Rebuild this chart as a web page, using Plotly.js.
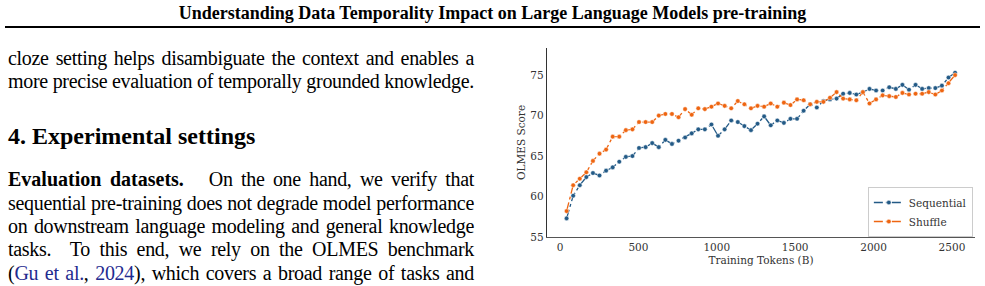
<!DOCTYPE html>
<html>
<head>
<meta charset="utf-8">
<script src="https://cdn.plot.ly/plotly-3.0.1.min.js"></script>
<style>
  html, body { margin: 0; padding: 0; background: #fff; }
  body { width: 985px; height: 286px; position: relative; overflow: hidden; font-family: "Liberation Serif", "Times New Roman", serif; color: #000; }
  .ln { position: absolute; left: 8px; width: 466px; font-size: 20px; line-height: 20px; letter-spacing: -0.3px; white-space: nowrap; text-align: justify; text-align-last: justify; }
  .ln b { letter-spacing: 0; }
  .hdr { position: absolute; left: 0; width: 985px; top: 3.9px; text-align: center; font-weight: bold; font-size: 18px; line-height: 18px; }
  .rule { position: absolute; left: 5px; width: 975px; top: 26px; height: 2.4px; background: #000; }
  .h2 { position: absolute; left: 8px; top: 123.9px; font-weight: bold; font-size: 24px; line-height: 24px; white-space: nowrap; }
  .cite { color: #1f2b8f; }
  #chart { position: absolute; left: 490px; top: 35px; width: 495px; height: 251px; }
</style>
</head>
<body>
<div class="hdr">Understanding Data Temporality Impact on Large Language Models pre-training</div>
<div class="rule"></div>
<div class="ln" style="top:47.5px">cloze setting helps disambiguate the context and enables a</div>
<div class="ln" style="top:70.9px">more precise evaluation of temporally grounded knowledge.</div>
<div class="h2">4. Experimental settings</div>
<div class="ln" style="top:169.3px"><b>Evaluation datasets.</b>&nbsp;&nbsp; On the one hand, we verify that</div>
<div class="ln" style="top:192.6px">sequential pre-training does not degrade model performance</div>
<div class="ln" style="top:215.9px">on downstream language modeling and general knowledge</div>
<div class="ln" style="top:239.2px">tasks.&nbsp; To this end, we rely on the OLMES benchmark</div>
<div class="ln" style="top:262.5px">(<span class="cite">Gu et al.</span>, <span class="cite">2024</span>), which covers a broad range of tasks and</div>
<div id="chart"></div>
<script>
// Training tokens (billions) at each evaluated checkpoint
const tokens = [42, 84, 126, 168, 210, 252, 294, 336, 378, 420,
  462, 504, 546, 588, 630, 672, 714, 756, 798, 840,
  882, 924, 966, 1008, 1050, 1092, 1134, 1176, 1218, 1260,
  1302, 1344, 1386, 1428, 1470, 1512, 1554, 1596, 1638, 1680,
  1722, 1764, 1806, 1848, 1890, 1932, 1974, 2016, 2058, 2100,
  2142, 2184, 2226, 2268, 2310, 2352, 2394, 2436, 2478, 2520];

const sequential = [57.3, 60.1, 61.4, 62.4, 62.9, 62.6, 63.2, 63.6, 64.3, 64.9,
  65.0, 66.0, 66.1, 66.6, 66.1, 67.0, 66.5, 66.9, 67.3, 67.8,
  68.3, 68.3, 68.9, 67.5, 68.3, 69.4, 69.2, 68.7, 68.2, 69.0,
  69.9, 68.8, 69.4, 69.1, 69.6, 69.6, 70.6, 71.4, 71.0, 71.8,
  72.0, 72.1, 72.7, 72.8, 72.6, 72.9, 73.3, 73.1, 73.1, 73.5,
  73.3, 73.8, 73.2, 73.8, 73.3, 73.4, 73.4, 73.7, 74.7, 75.3];

const shuffle = [58.2, 61.4, 62.2, 63.0, 64.4, 65.3, 65.8, 67.4, 67.4, 68.2,
  68.3, 69.2, 69.2, 69.2, 70.0, 70.2, 70.2, 69.8, 70.8, 70.1,
  70.9, 70.8, 71.1, 71.5, 71.2, 70.9, 71.8, 71.4, 70.9, 71.2,
  71.1, 71.5, 71.1, 71.6, 71.3, 72.0, 71.9, 71.4, 71.7, 71.7,
  72.2, 72.9, 72.1, 72.0, 71.9, 72.9, 71.5, 72.0, 72.5, 72.4,
  72.3, 72.8, 72.6, 72.7, 72.7, 72.9, 72.6, 73.1, 74.0, 75.0];

const seriesNames = ["Sequential", "Shuffle"];
const xTicks = [0, 500, 1000, 1500, 2000, 2500];
const yTicks = [55, 60, 65, 70, 75];

const colors = ["#235a86", "#ee6511"];
const serif = "DejaVu Serif, serif";

function trace(name, y, color) {
  return {
    x: tokens, y: y, name: name, type: "scatter", mode: "lines+markers",
    line: { color: color, width: 1.3, dash: "dashdot" },
    marker: { color: color, size: 4.6, line: { color: "#ffffff", width: 0.5 } }
  };
}

const data = [
  trace(seriesNames[0], sequential, colors[0]),
  trace(seriesNames[1], shuffle, colors[1])
];

const layout = {
  width: 495, height: 251,
  margin: { l: 57, r: 10, t: 13, b: 49, pad: 0 },
  paper_bgcolor: "#ffffff", plot_bgcolor: "#ffffff",
  showlegend: true,
  font: { family: serif, size: 10.5, color: "#333333" },
  xaxis: {
    range: [-83, 2647], tickvals: xTicks, ticktext: xTicks.map(String),
    showgrid: false, zeroline: false, showline: true, linecolor: "#555555", linewidth: 1.4,
    ticks: "", ticklen: 0, tickfont: { family: serif, size: 10.5, color: "#333333" },
    title: { text: "Training Tokens (B)", font: { family: serif, size: 10.5, color: "#333333" }, standoff: 4 }
  },
  yaxis: {
    range: [55, 78.35], tickvals: yTicks, ticktext: yTicks.map(String),
    showgrid: false, zeroline: false, showline: true, linecolor: "#333333", linewidth: 1.2,
    ticks: "", ticklen: 0, tickfont: { family: serif, size: 10.5, color: "#333333" },
    title: { text: "OLMES Score", font: { family: serif, size: 10.5, color: "#333333" }, standoff: 2 }
  },
  legend: {
    x: 0.995, y: 0.0, xanchor: "right", yanchor: "bottom",
    bgcolor: "#ffffff", bordercolor: "#cccccc", borderwidth: 1,
    font: { family: serif, size: 10.5, color: "#333333" },
    itemwidth: 30, tracegroupgap: 0
  }
};

Plotly.newPlot("chart", data, layout, { staticPlot: true, displayModeBar: false });
</script>
</body>
</html>
